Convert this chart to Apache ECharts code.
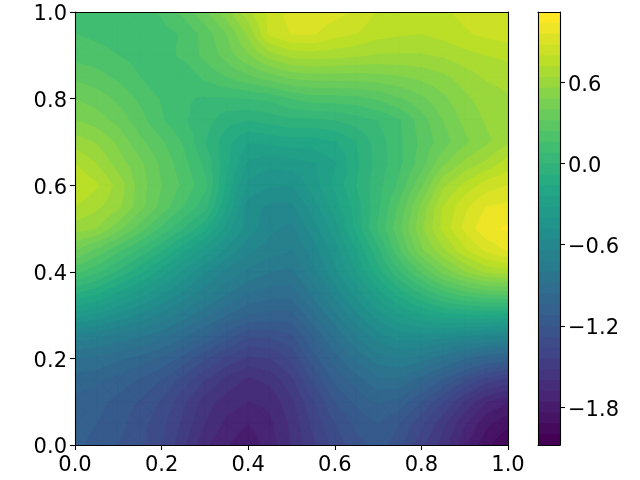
<!DOCTYPE html>
<html>
<head>
<meta charset="utf-8">
<script src="https://cdn.jsdelivr.net/npm/echarts@6/dist/echarts.min.js"></script>
<style>
  html, body { margin: 0; padding: 0; background: #fff; }
  #chart { width: 640px; height: 480px; }
</style>
</head>
<body>
<div id="chart"></div>
<script>
const xValues = [0, 0.05, 0.1, 0.15, 0.2, 0.25, 0.3, 0.35, 0.4, 0.45, 0.5, 0.55, 0.6, 0.65, 0.7, 0.75, 0.8, 0.85, 0.9, 0.95, 1];
const yValues = [1, 0.95, 0.9, 0.85, 0.8, 0.75, 0.7, 0.65, 0.6, 0.55, 0.5, 0.45, 0.4, 0.35, 0.3, 0.25, 0.2, 0.15, 0.1, 0.05, 0];
// one row per yValues entry
const zRows = [
  [.12, .12, .12, .13, .17, .26, .38, .53, .69, .83, .91, .94, .91, .86, .79, .78, .78, .79, .82, .84, .85],
  [.16, .14, .12, .12, .13, .17, .27, .40, .58, .82, .885, .89, .83, .80, .75, .73, .72, .75, .79, .82, .84],
  [.21, .19, .16, .13, .12, .18, .26, .35, .47, .60, .67, .68, .67, .65, .63, .63, .63, .65, .69, .72, .74],
  [.30, .27, .22, .16, .09, .09, .18, .24, .30, .36, .42, .44, .44, .44, .45, .47, .50, .54, .60, .65, .67],
  [.40, .36, .30, .22, .15, .09, .07, .07, .08, .10, .16, .20, .20, .21, .25, .31, .38, .46, .54, .60, .63],
  [.48, .44, .37, .27, .17, .09, .04, -.05, -.08, -.05, -.02, -.02, .00, .04, .08, .15, .28, .40, .50, .57, .60],
  [.60, .55, .46, .34, .25, .15, .00, -.13, -.24, -.22, -.20, -.20, -.17, -.08, .04, .14, .26, .36, .46, .54, .63],
  [.72, .64, .52, .42, .30, .19, .06, -.14, -.34, -.38, -.36, -.33, -.25, -.10, .03, .14, .28, .46, .58, .66, .76],
  [.80, .73, .61, .44, .32, .22, .10, -.18, -.42, -.47, -.48, -.36, -.22, -.08, .05, .18, .38, .62, .74, .84, .88],
  [.72, .66, .58, .43, .29, .16, .03, -.24, -.52, -.58, -.58, -.44, -.28, -.12, .06, .26, .50, .72, .86, .96, .98],
  [.60, .56, .43, .28, .14, .00, -.14, -.36, -.52, -.62, -.66, -.52, -.36, -.14, .09, .30, .54, .74, .90, 1.02, 1.05],
  [.40, .30, .18, .06, -.07, -.22, -.36, -.50, -.62, -.68, -.72, -.60, -.44, -.24, -.02, .23, .46, .62, .78, .90, .97],
  [.18, .10, -.02, -.14, -.28, -.42, -.55, -.66, -.74, -.80, -.82, -.67, -.50, -.32, -.12, .07, .25, .42, .55, .65, .68],
  [-.08, -.15, -.26, -.36, -.47, -.58, -.69, -.79, -.88, -.92, -.92, -.78, -.61, -.45, -.28, -.13, .00, .12, .20, .25, .27],
  [-.36, -.42, -.50, -.58, -.66, -.76, -.86, -.96, -1.04, -1.07, -1.07, -.90, -.74, -.58, -.44, -.33, -.25, -.20, -.18, -.17, -.18],
  [-.68, -.71, -.76, -.80, -.86, -.95, -1.05, -1.17, -1.28, -1.27, -1.22, -1.04, -.87, -.72, -.60, -.53, -.52, -.54, -.58, -.62, -.64],
  [-.88, -.90, -.94, -.99, -1.05, -1.15, -1.27, -1.38, -1.46, -1.44, -1.34, -1.16, -1.00, -.86, -.76, -.72, -.76, -.85, -.95, -1.03, -1.07],
  [-1.00, -1.02, -1.07, -1.13, -1.20, -1.31, -1.44, -1.55, -1.62, -1.58, -1.46, -1.27, -1.10, -1.00, -.90, -.90, -1.00, -1.13, -1.27, -1.40, -1.47],
  [-1.06, -1.09, -1.15, -1.21, -1.29, -1.42, -1.56, -1.64, -1.68, -1.66, -1.54, -1.37, -1.20, -1.10, -1.03, -1.07, -1.20, -1.35, -1.53, -1.68, -1.75],
  [-1.10, -1.12, -1.17, -1.25, -1.33, -1.46, -1.60, -1.70, -1.76, -1.70, -1.58, -1.42, -1.28, -1.18, -1.12, -1.20, -1.34, -1.50, -1.67, -1.82, -1.90],
  [-1.10, -1.14, -1.20, -1.26, -1.36, -1.50, -1.66, -1.75, -1.82, -1.72, -1.60, -1.46, -1.33, -1.23, -1.16, -1.25, -1.42, -1.56, -1.74, -1.90, -2.00]
];
const levelMin = -2.08;
const levelStep = 0.08;
const levelCount = 40;
const colorbarTicks = [0.6, 0, -0.6, -1.2, -1.8];
const viridis = ['#440154', '#482475', '#414487', '#355f8d', '#2a788e', '#21918c', '#22a884', '#44bf70', '#7ad151', '#bddf26', '#fde725'];

const bandIndexes = [];
for (let k = 0; k < levelCount; k++) bandIndexes.push([k]);
const levelAt = k => levelMin + k * levelStep;
const bandColor = k => echarts.color.lerp(k / (levelCount - 1), viridis);

// cut a triangle [[x, y, z], ...] down to the part at or above the level
function clipAbove(pts, level) {
  const out = [];
  for (let i = 0; i < pts.length; i++) {
    const a = pts[i];
    const b = pts[(i + 1) % pts.length];
    const aIn = a[2] >= level;
    const bIn = b[2] >= level;
    if (aIn) out.push(a);
    if (aIn !== bIn) {
      const t = (level - a[2]) / (b[2] - a[2]);
      out.push([a[0] + t * (b[0] - a[0]), a[1] + t * (b[1] - a[1]), level]);
    }
  }
  return out;
}

// each cell is split in four round its centre so no diagonal direction is favoured
const triangles = [];
for (let r = 0; r < yValues.length - 1; r++) {
  for (let c = 0; c < xValues.length - 1; c++) {
    const p = (i, j) => [xValues[j], yValues[i], zRows[i][j]];
    const a = p(r, c), b = p(r, c + 1), d = p(r + 1, c + 1), e = p(r + 1, c);
    const m = [(a[0] + b[0]) / 2, (a[1] + e[1]) / 2, (a[2] + b[2] + d[2] + e[2]) / 4];
    triangles.push([a, b, m], [b, d, m], [d, e, m], [e, a, m]);
  }
}

// bands are painted low to high, each one covering everything above its level
function renderLevel(params, api) {
  const k = api.value(0);
  const color = bandColor(k);
  const children = [];
  triangles.forEach(tri => {
    const poly = clipAbove(tri, levelAt(k));
    if (poly.length < 3) return;
    children.push({
      type: 'polygon',
      shape: { points: poly.map(p => api.coord([p[0], p[1]])) },
      style: { fill: color, stroke: color, lineWidth: 0.6 }
    });
  });
  return { type: 'group', children: children };
}

// same painting order for the colorbar, so no seams between its bands
function renderBand(params, api) {
  const k = api.value(0);
  const a = api.coord([0, levelAt(k)]);
  const b = api.coord([1, levelAt(levelCount)]);
  return {
    type: 'rect',
    shape: { x: a[0], y: b[1], width: b[0] - a[0], height: a[1] - b[1] },
    style: { fill: bandColor(k) }
  };
}

const font = { color: '#000', fontSize: 21, fontFamily: 'DejaVu Sans' };
const line = { show: true, onZero: false, lineStyle: { color: '#000', width: 1.1 } };
const tick = { show: true, length: 5, lineStyle: { color: '#000', width: 1.1 } };
const fixed1 = v => v.toFixed(1).replace('-', '\u2212');
// y labels sit a little low in the reference, the rich padding pushes them down
const fixed1Low = v => '{t|' + fixed1(v) + '}';
const lowRich = { t: Object.assign({ padding: [6, 0, 0, 0] }, font) };

const myChart = echarts.init(document.getElementById('chart'), null, { renderer: 'canvas' });
myChart.setOption({
  animation: false,
  grid: [
    { left: 75, top: 12, width: 433, height: 433 },
    { left: 538, top: 12, width: 22, height: 433 }
  ],
  xAxis: [
    { gridIndex: 0, type: 'value', min: 0, max: 1, interval: 0.2, z: 5, axisLine: line, axisTick: tick, splitLine: { show: false },
      axisLabel: Object.assign({ margin: 10, formatter: fixed1 }, font) },
    { gridIndex: 0, type: 'value', position: 'top', min: 0, max: 1, z: 5, axisLine: line, axisTick: { show: false }, axisLabel: { show: false }, splitLine: { show: false } },
    { gridIndex: 1, type: 'value', min: 0, max: 1, z: 5, axisLine: line, axisTick: { show: false }, axisLabel: { show: false }, splitLine: { show: false } },
    { gridIndex: 1, type: 'value', position: 'top', min: 0, max: 1, z: 5, axisLine: line, axisTick: { show: false }, axisLabel: { show: false }, splitLine: { show: false } }
  ],
  yAxis: [
    { gridIndex: 0, type: 'value', min: 0, max: 1, interval: 0.2, z: 5, axisLine: line, axisTick: tick, splitLine: { show: false },
      axisLabel: { margin: 8, formatter: fixed1Low, rich: lowRich } },
    { gridIndex: 0, type: 'value', position: 'right', min: 0, max: 1, z: 5, axisLine: line, axisTick: { show: false }, axisLabel: { show: false }, splitLine: { show: false } },
    { gridIndex: 1, type: 'value', position: 'right', min: levelMin, max: levelAt(levelCount), z: 5, axisLine: line, splitLine: { show: false },
      axisTick: Object.assign({ customValues: colorbarTicks }, tick),
      axisLabel: { margin: 8, customValues: colorbarTicks, formatter: fixed1Low, rich: lowRich } },
    { gridIndex: 1, type: 'value', position: 'left', min: levelMin, max: levelAt(levelCount), z: 5, axisLine: line, axisTick: { show: false }, axisLabel: { show: false }, splitLine: { show: false } }
  ],
  series: [
    { type: 'custom', xAxisIndex: 0, yAxisIndex: 0, clip: true, silent: true, renderItem: renderLevel, data: bandIndexes },
    { type: 'custom', xAxisIndex: 2, yAxisIndex: 2, clip: true, silent: true, renderItem: renderBand, data: bandIndexes }
  ]
});
</script>
</body>
</html>
